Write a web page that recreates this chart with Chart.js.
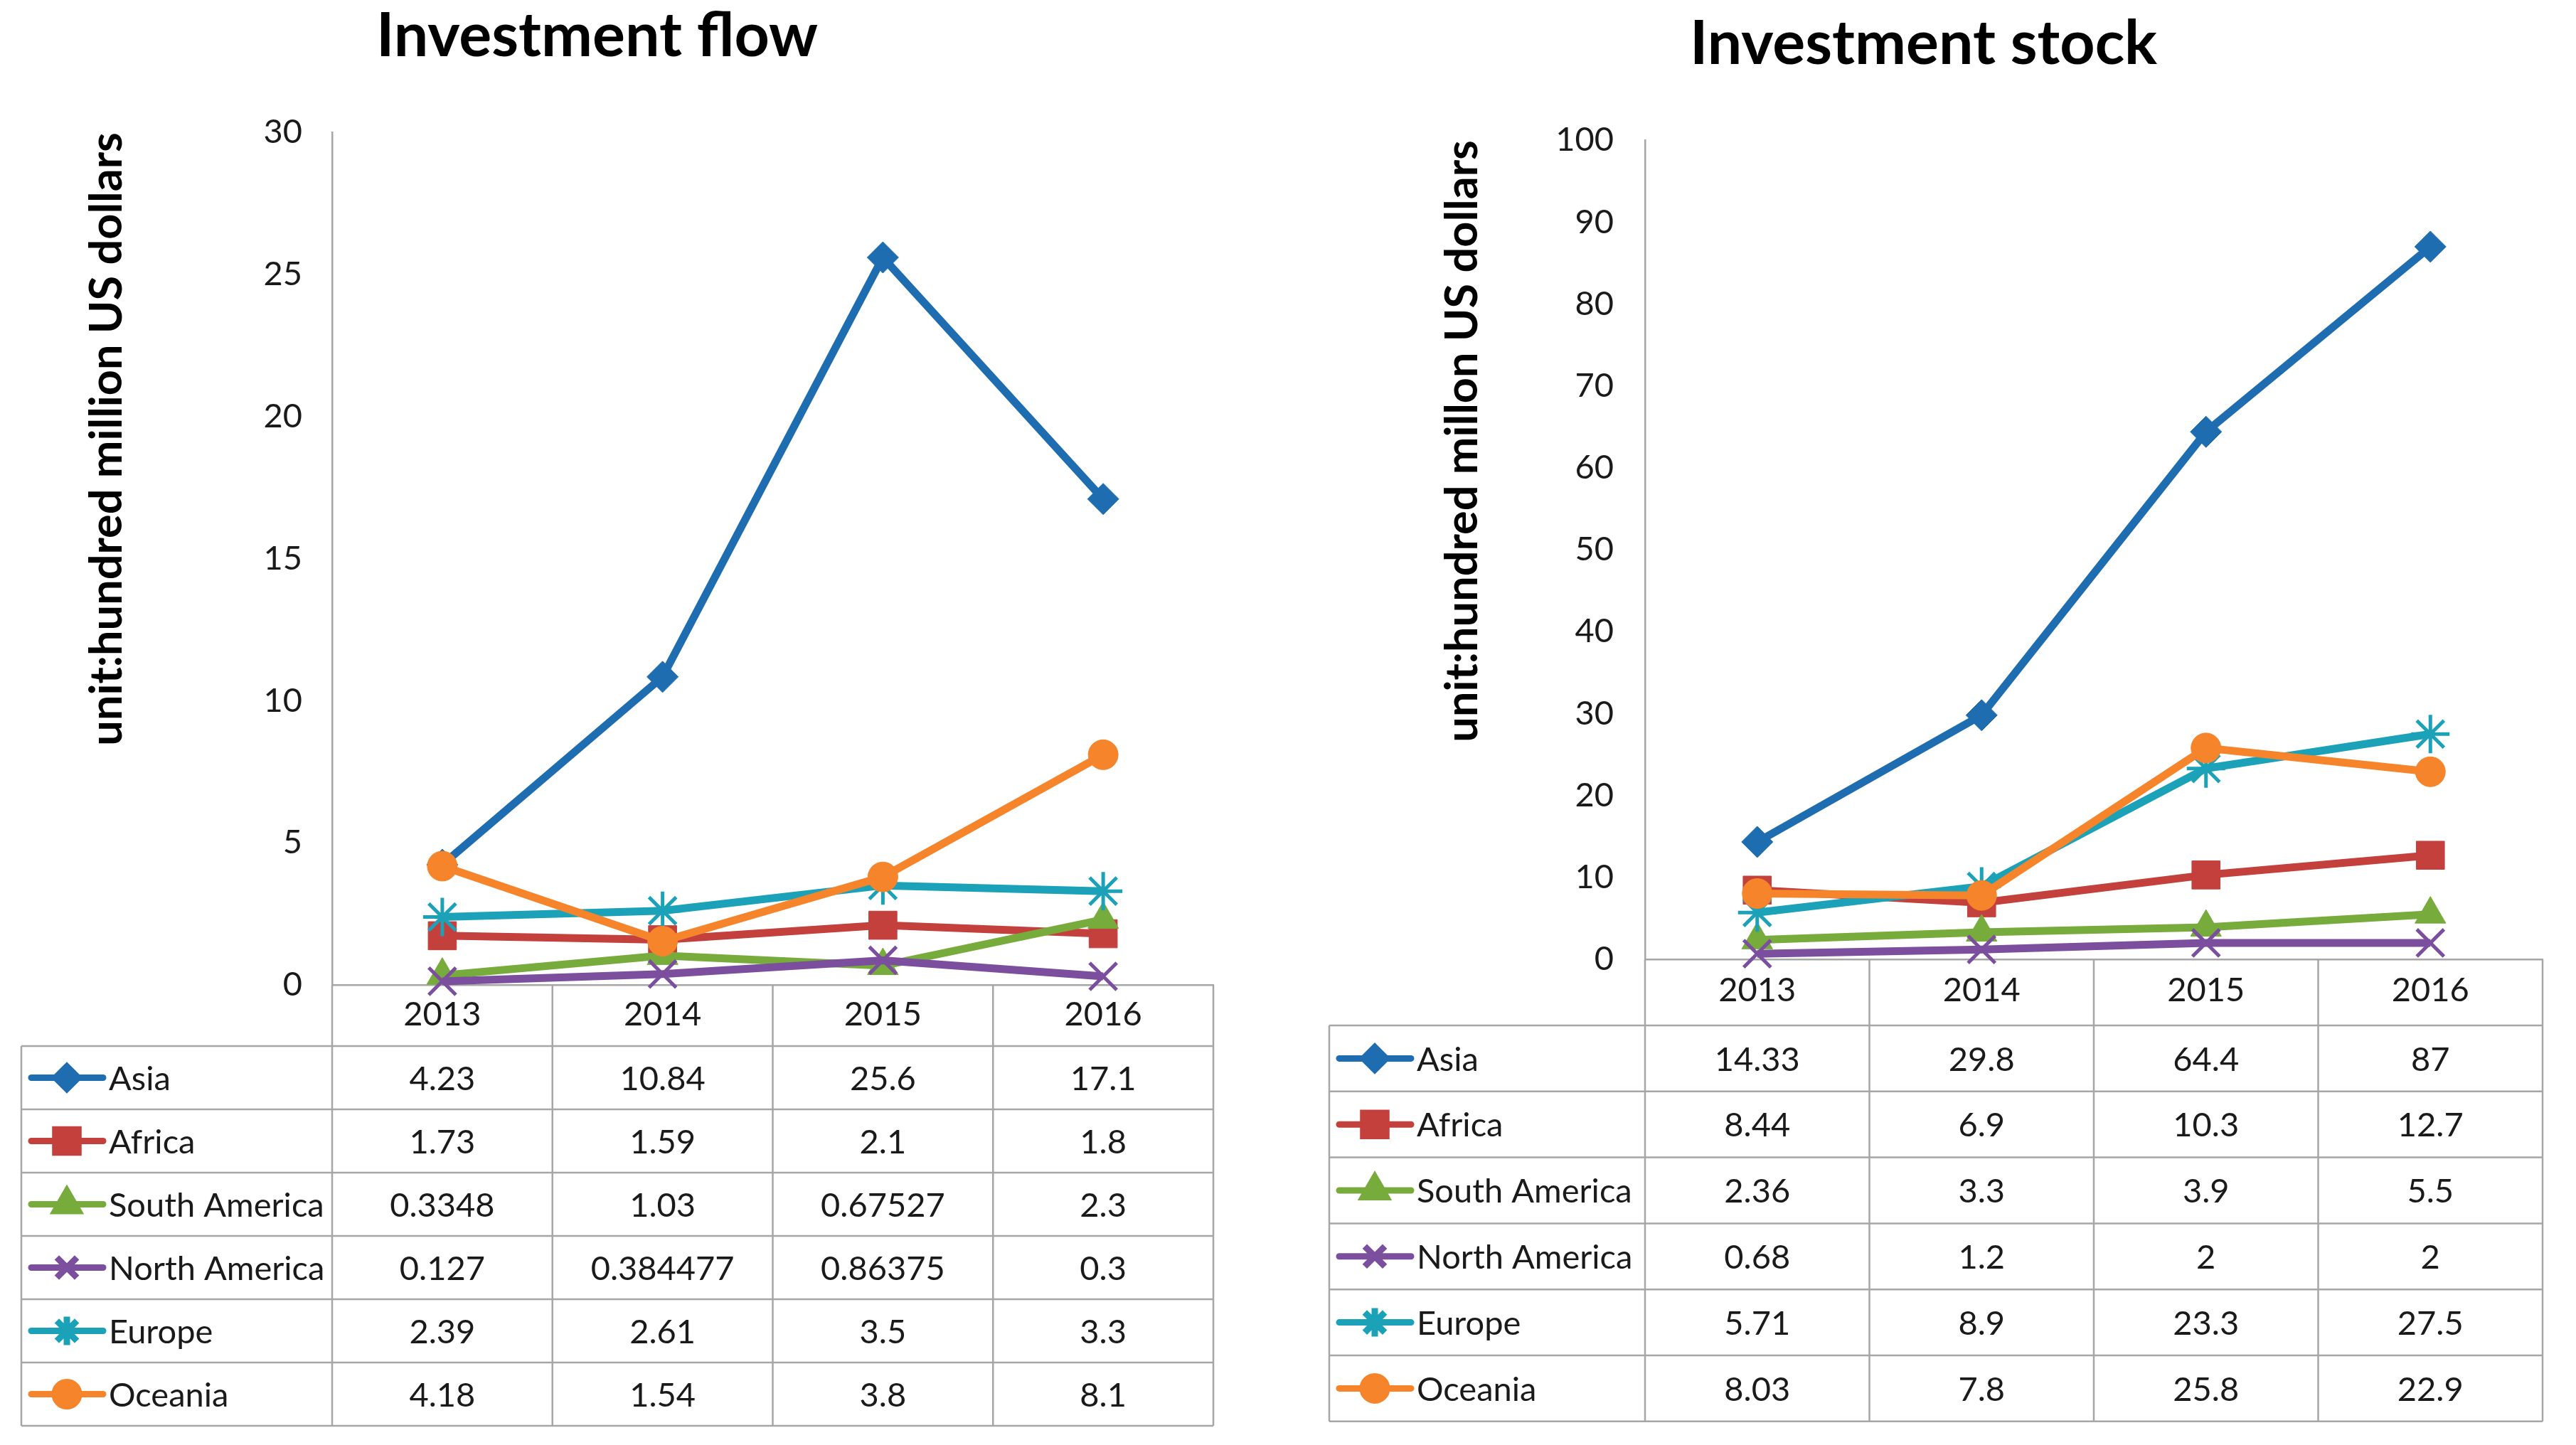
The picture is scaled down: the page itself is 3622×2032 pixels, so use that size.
<!DOCTYPE html>
<html>
<head>
<meta charset="utf-8">
<script src="https://cdn.jsdelivr.net/npm/chart.js@4.4.1/dist/chart.umd.min.js"></script>
<style>
  html, body { margin: 0; padding: 0; background: #fff; width: 3622px; height: 2032px; overflow: hidden; position: relative; }
  canvas { position: absolute; top: 0; }
  #flow { left: -30px; }
  #stock { left: 1817px; }
</style>
</head>
<body>
<canvas id="flow" width="1768" height="2032"></canvas>
<canvas id="stock" width="1790" height="2032"></canvas>
<script>
const years = ['2013', '2014', '2015', '2016'];
const regions = ['Asia', 'Africa', 'South America', 'North America', 'Europe', 'Oceania'];
const colors = ['#1f6db1', '#c3403d', '#77ab3c', '#7b4f9e', '#1ba2b9', '#f5842b'];
const markers = ['rectRot', 'rect', 'triangle', 'crossRot', 'star', 'circle'];

// investment flow (hundred million USD)
const flowAsia = [4.23, 10.84, 25.6, 17.1];
const flowAfrica = [1.73, 1.59, 2.1, 1.8];
const flowSouthAmerica = [0.3348, 1.03, 0.67527, 2.3];
const flowNorthAmerica = [0.127, 0.384477, 0.86375, 0.3];
const flowEurope = [2.39, 2.61, 3.5, 3.3];
const flowOceania = [4.18, 1.54, 3.8, 8.1];
const flowMax = 30, flowStep = 5;

// investment stock (hundred million USD)
const stockAsia = [14.33, 29.8, 64.4, 87];
const stockAfrica = [8.44, 6.9, 10.3, 12.7];
const stockSouthAmerica = [2.36, 3.3, 3.9, 5.5];
const stockNorthAmerica = [0.68, 1.2, 2, 2];
const stockEurope = [5.71, 8.9, 23.3, 27.5];
const stockOceania = [8.03, 7.8, 25.8, 22.9];
const stockMax = 100, stockStep = 10;

const plotRadius = [22, 28, 25, 27, 27, 21];
const plotBorder = [1, 1, 1, 5, 5, 1];
const keyRadius = [16, 23, 19, 20, 20, 17];
const keyBorder = [1, 1, 1, 3, 3, 1];

const gridColor = '#a6a6a6';
const textColor = '#1a1a1a';
Chart.defaults.font.family = 'Lato';

const tablePlugin = {
  id: 'dataTable',
  beforeDatasetsDraw(chart, args, opts) {
    const { ctx, chartArea, scales: { x } } = chart;
    const band = (chartArea.right - chartArea.left) / years.length;
    const top = chartArea.bottom;
    const rowsTop = top + opts.headerH;
    const bottom = rowsTop + opts.rowH * opts.rows.length;
    ctx.save();
    ctx.strokeStyle = gridColor;
    ctx.lineWidth = 2.5;
    ctx.beginPath();
    for (let k = 0; k <= opts.rows.length; k++) {
      const y = rowsTop + k * opts.rowH;
      ctx.moveTo(opts.left, y);
      ctx.lineTo(chartArea.right, y);
    }
    ctx.moveTo(opts.left, rowsTop);
    ctx.lineTo(opts.left, bottom);
    for (let i = 0; i <= years.length; i++) {
      const xx = chartArea.left + i * band;
      ctx.moveTo(xx, top);
      ctx.lineTo(xx, bottom);
    }
    ctx.stroke();

    ctx.font = '47px Lato';
    ctx.textBaseline = 'middle';
    opts.rows.forEach((vals, r) => {
      const cy = rowsTop + (r + 0.5) * opts.rowH;
      // legend key
      ctx.strokeStyle = colors[r];
      ctx.fillStyle = colors[r];
      ctx.lineWidth = 9;
      ctx.lineCap = 'round';
      ctx.beginPath();
      ctx.moveTo(opts.left + 14, cy);
      ctx.lineTo(opts.left + 115, cy);
      ctx.stroke();
      ctx.lineCap = 'butt';
      Chart.helpers.drawPoint(ctx, {
        pointStyle: markers[r], radius: keyRadius[r], rotation: 0, borderWidth: keyBorder[r]
      }, opts.left + 64, cy);
      ctx.fillStyle = textColor;
      ctx.textAlign = 'left';
      ctx.fillText(regions[r], opts.left + 123, cy + 2);
      ctx.textAlign = 'center';
      vals.forEach((v, i) => ctx.fillText(String(v), x.getPixelForValue(i), cy + 2));
    });
    ctx.restore();
  }
};

function makeChart(id, cfg) {
  const datasets = cfg.rows.map((vals, r) => ({
    label: regions[r],
    data: vals,
    borderColor: colors[r],
    backgroundColor: colors[r],
    borderWidth: 11,
    pointStyle: markers[r],
    pointRadius: plotRadius[r],
    pointBackgroundColor: colors[r],
    pointBorderColor: colors[r],
    pointBorderWidth: plotBorder[r],
    tension: 0,
    clip: false,
    order: cfg.rows.length - r
  }));
  return new Chart(document.getElementById(id), {
    type: 'line',
    data: { labels: years, datasets },
    options: {
      responsive: false,
      devicePixelRatio: 1,
      animation: false,
      layout: { padding: { left: 0, right: cfg.rightPad, top: 0, bottom: cfg.bottomPad } },
      plugins: {
        legend: { display: false },
        tooltip: { enabled: false },
        title: {
          display: true,
          text: cfg.title,
          color: '#000',
          font: { family: 'Lato', weight: 'bold', size: 86 },
          padding: { top: cfg.titleTop, bottom: cfg.titleBottom }
        },
        dataTable: { rows: cfg.rows, headerH: cfg.headerH, rowH: cfg.rowH, left: cfg.legendLeft }
      },
      scales: {
        x: {
          offset: true,
          grid: { display: false, drawTicks: false },
          border: { display: true, color: gridColor, width: 2.5 },
          ticks: { color: textColor, font: { size: 47 }, padding: cfg.xPad },
          afterFit: (s) => { s.height = cfg.headerH; }
        },
        y: {
          min: 0,
          max: cfg.max,
          grid: { display: false, drawTicks: false },
          border: { display: true, color: gridColor, width: 2.5 },
          ticks: { stepSize: cfg.step, color: textColor, font: { size: 47 }, padding: cfg.yPad },
          title: {
            display: true,
            text: cfg.yTitle,
            align: 'end',
            color: '#000',
            font: { family: 'Lato', weight: 'bold', size: 63 },
            padding: { top: cfg.yTitlePad, bottom: 0 }
          },
          afterFit: (s) => { s.width = cfg.yWidth; }
        }
      }
    },
    plugins: [tablePlugin]
  });
}

function draw() {
  makeChart('flow', {
    title: 'Investment flow',
    yTitle: 'unit:hundred million US dollars',
    rows: [flowAsia, flowAfrica, flowSouthAmerica, flowNorthAmerica, flowEurope, flowOceania],
    max: flowMax, step: flowStep,
    yWidth: 497, yTitlePad: 143, yPad: 42, xPad: 14,
    titleTop: 0, titleBottom: 83,
    headerH: 86, rowH: 89, bottomPad: 561, rightPad: 29, legendLeft: 60
  });
  makeChart('stock', {
    title: 'Investment stock',
    yTitle: 'unit:hundred millon US dollars',
    rows: [stockAsia, stockAfrica, stockSouthAmerica, stockNorthAmerica, stockEurope, stockOceania],
    max: stockMax, step: stockStep,
    yWidth: 496, yTitlePad: 202, yPad: 44, xPad: 16,
    titleTop: 11, titleBottom: 83,
    headerH: 93, rowH: 92.8, bottomPad: 590, rightPad: 15, legendLeft: 52
  });
}

Promise.all([
  document.fonts.load('47px Lato'),
  document.fonts.load('bold 63px Lato'),
  document.fonts.load('bold 86px Lato')
]).catch(() => {}).then(draw);
</script>
</body>
</html>
